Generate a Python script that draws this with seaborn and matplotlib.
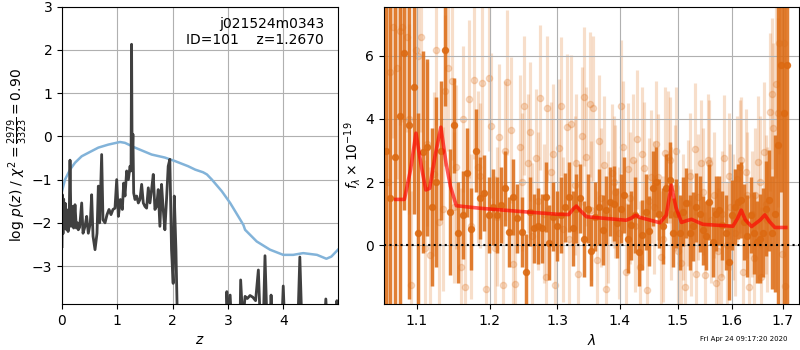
import numpy as np
import pandas as pd
import matplotlib
matplotlib.use("Agg")
import matplotlib.pyplot as plt
import seaborn as sns
from matplotlib.ticker import NullLocator, FixedLocator, FixedFormatter

# ---------------- redshift probability panel ----------------
z_grid = [0.000, 0.006, 0.018, 0.030, 0.045, 0.060, 0.075, 0.090, 0.110, 0.130,
          0.145, 0.163, 0.187, 0.211, 0.235, 0.259, 0.280, 0.295, 0.319, 0.356,
          0.380, 0.416, 0.446, 0.476, 0.512, 0.536, 0.561, 0.597, 0.633, 0.657,
          0.681, 0.717, 0.741, 0.778, 0.814, 0.850, 0.886, 0.922, 0.958, 0.989,
          1.019, 1.055, 1.091, 1.115, 1.139, 1.169, 1.200, 1.230, 1.248, 1.258,
          1.268, 1.282, 1.296, 1.320, 1.350, 1.380, 1.410, 1.440, 1.470, 1.500,
          1.530, 1.560, 1.590, 1.620, 1.650, 1.680, 1.710, 1.740, 1.770, 1.800,
          1.830, 1.860, 1.890, 1.920, 1.950, 1.980, 2.010, 2.030, 2.060, 2.090,
          2.200, 2.950, 2.980, 3.010, 3.040, 3.070, 3.200, 3.230, 3.270, 3.310,
          3.350, 3.400, 3.450, 3.500, 3.550, 3.590, 3.640, 3.670, 3.710, 3.760,
          3.780, 3.810, 3.970, 4.000, 4.030, 4.260, 4.300, 4.340, 4.740, 4.770,
          4.800, 4.950, 4.970, 5.000]
log_pz = [-2.55, -1.35, -2.25, -1.45, -2.10, -1.55, -2.15, -1.70, -2.20, -1.90,
          -0.55, -2.08, -1.62, -2.12, -1.58, -2.12, -2.00, -2.16, -2.10, -1.54,
          -2.24, -2.08, -1.85, -2.24, -2.00, -1.35, -2.31, -2.62, -2.24, -1.15,
          -2.00, -0.42, -1.93, -2.00, -1.81, -1.69, -1.81, -1.69, -1.66, -1.00,
          -1.85, -1.46, -1.69, -1.08, -1.38, -0.80, -1.00, -0.69, -0.80, 2.13,
          -0.60, 0.05, -1.31, -1.46, -1.38, -1.54, -1.46, -1.11, -1.54, -1.62,
          -1.66, -1.19, -1.54, -1.23, -0.88, -1.69, -1.62, -1.23, -2.08, -1.11,
          -1.69, -2.16, -1.46, -0.69, -0.53, -2.62, -3.40, -1.38, -2.62, -4.50,
          -6.00, -6.00, -3.59, -4.50, -3.67, -4.50, -6.00, -3.32, -4.30, -3.70,
          -3.75, -3.68, -3.72, -3.80, -3.09, -4.50, -4.30, -2.76, -4.50, -4.30,
          -3.67, -4.50, -4.50, -3.46, -4.50, -4.50, -2.79, -4.50, -4.50, -3.76,
          -4.50, -4.50, -3.80, -4.50]

z_chi = [0.000, 0.054, 0.145, 0.235, 0.356, 0.476, 0.657, 0.838, 1.049, 1.139,
         1.320, 1.620, 1.860, 2.040, 2.280, 2.410, 2.550, 2.620, 2.710, 2.890,
         3.040, 3.220, 3.280, 3.310, 3.520, 3.760, 4.000, 4.180, 4.360, 4.610,
         4.780, 4.870, 4.990]
chi_curve = [-1.27, -1.00, -0.77, -0.61, -0.46, -0.38, -0.26, -0.19, -0.13, -0.15,
             -0.26, -0.42, -0.49, -0.57, -0.69, -0.77, -0.83, -0.88, -1.00, -1.27,
             -1.54, -1.92, -2.05, -2.16, -2.43, -2.62, -2.74, -2.74, -2.70, -2.74,
             -2.83, -2.78, -2.62]

# ---------------- spectrum panel ----------------
# combined (binned) spectrum
dark_wave = [1.060, 1.066, 1.072, 1.078, 1.084, 1.090, 1.096, 1.102, 1.108, 1.114,
             1.120, 1.126, 1.132, 1.138, 1.144, 1.150, 1.156, 1.162, 1.168, 1.174,
             1.180, 1.186, 1.192, 1.198, 1.204, 1.210, 1.216, 1.222, 1.228, 1.234,
             1.240, 1.246, 1.252, 1.258, 1.264, 1.270, 1.276, 1.282, 1.288, 1.294,
             1.300, 1.306, 1.312, 1.318, 1.324, 1.330, 1.336, 1.342, 1.348, 1.354,
             1.360, 1.366, 1.372, 1.378, 1.384, 1.390, 1.396, 1.402, 1.408, 1.414,
             1.420, 1.426, 1.432, 1.438, 1.444, 1.450, 1.456, 1.462, 1.468, 1.474,
             1.480, 1.486, 1.492, 1.498, 1.504, 1.510, 1.516, 1.522, 1.528, 1.534,
             1.540, 1.546, 1.552, 1.558, 1.564, 1.570, 1.576, 1.582, 1.588, 1.594,
             1.600, 1.606, 1.612, 1.618, 1.624, 1.630, 1.636, 1.642, 1.648, 1.654,
             1.660, 1.666, 1.672, 1.678, 1.684, 1.690, 1.696, 1.702, 1.708]
dark_flux = [3.00, 1.50, 2.80, 4.10, 6.10, 3.80, 5.00, 0.40, 2.95, 3.10,
             1.20, 2.00, 3.00, 6.20, 1.05, 3.80, 0.40, 0.95, 2.30, 0.50,
             3.00, 1.50, 1.66, 0.95, 1.20, 0.95, 1.27, 1.80, 0.42, 1.53,
             0.85, 0.42, -0.85, 1.06, 0.53, 0.60, 0.53, 1.53, 0.08, 0.90,
             0.61, 0.95, 1.20, 1.53, 0.53, 1.16, 1.48, 0.20, 1.16, -0.20,
             0.90, 1.20, 0.48, 1.10, 1.38, 1.32, 0.70, 1.16, 1.59, 0.21,
             0.63, 0.95, -0.21, 0.32, 1.06, 0.45, 1.80, 2.00, 1.00, 0.60,
             1.80, 2.06, 0.40, 1.00, 0.40, 1.06, 1.33, 0.40, 0.60, 1.20,
             0.98, 0.47, 0.30, 1.37, 0.10, 1.00, 1.10, 0.63, 0.40, -0.53,
             0.95, 1.20, 1.38, 1.43, 0.74, 0.30, 0.95, 0.40, 0.10, 0.21,
             0.40, 1.16, 1.43, 0.40, 1.00, 3.17, 5.70, 4.18, 5.70]
dark_err = [8.0, 7.0, 6.0, 6.0, 5.0, 5.5, 4.0, 3.8, 3.2, 2.8,
            2.5, 2.7, 2.2, 1.8, 2.0, 1.5, 1.6, 1.4, 1.4, 1.3,
            1.3, 1.3, 1.2, 1.2, 1.2, 1.2, 1.2, 1.2, 1.1, 1.2,
            1.1, 1.1, 1.2, 1.1, 1.1, 1.2, 1.1, 1.1, 1.2, 1.1,
            1.1, 1.2, 1.1, 1.1, 1.2, 1.1, 1.1, 1.2, 1.1, 1.1,
            1.1, 1.2, 1.1, 1.1, 1.1, 1.2, 1.1, 1.1, 1.2, 1.1,
            1.1, 1.2, 1.1, 1.1, 1.2, 1.1, 1.2, 1.1, 1.1, 1.2,
            1.1, 1.2, 1.1, 1.1, 1.2, 1.1, 1.1, 1.2, 1.1, 1.1,
            1.2, 1.1, 1.1, 1.2, 1.1, 1.2, 1.1, 1.1, 1.2, 1.2,
            1.1, 1.2, 1.2, 1.2, 1.2, 1.3, 1.2, 1.3, 1.3, 1.4,
            1.4, 1.5, 1.6, 1.8, 2.5, 6.0, 4.0, 7.0, 8.0]

# first exposure set (faint)
pa1_wave = [1.063, 1.069, 1.075, 1.081, 1.087, 1.093, 1.099, 1.105, 1.111, 1.117,
            1.123, 1.129, 1.135, 1.141, 1.147, 1.153, 1.159, 1.165, 1.171, 1.177,
            1.183, 1.189, 1.195, 1.201, 1.207, 1.213, 1.219, 1.225, 1.231, 1.237,
            1.243, 1.249, 1.255, 1.261, 1.267, 1.273, 1.279, 1.285, 1.291, 1.297,
            1.303, 1.309, 1.315, 1.321, 1.327, 1.333, 1.339, 1.345, 1.351, 1.357,
            1.363, 1.369, 1.375, 1.381, 1.387, 1.393, 1.399, 1.405, 1.411, 1.417,
            1.423, 1.429, 1.435, 1.441, 1.447, 1.453, 1.459, 1.465, 1.471, 1.477,
            1.483, 1.489, 1.495, 1.501, 1.507, 1.513, 1.519, 1.525, 1.531, 1.537,
            1.543, 1.549, 1.555, 1.561, 1.567, 1.573, 1.579, 1.585, 1.591, 1.597,
            1.603, 1.609, 1.615, 1.621, 1.627, 1.633, 1.639, 1.645, 1.651, 1.657,
            1.663, 1.669, 1.675, 1.681, 1.687, 1.693, 1.699, 1.705]
pa1_flux = [2.00, 6.90, 5.60, 6.90, 6.60, -1.27, 6.20, 6.60, -0.10, -0.31,
            2.27, 0.74, 1.16, 5.60, 5.20, 2.48, -0.69, -1.33, 4.64, 5.24,
            2.48, 5.14, -1.38, 3.78, -0.10, 3.43, -1.27, 5.16, 3.65, -1.22,
            3.10, 4.42, 2.59, 0.30, 2.75, 4.68, 1.00, 4.34, 2.33, -1.27,
            3.07, 0.50, 3.76, 3.84, 1.90, -0.90, 3.46, 2.80, 4.46, 4.34,
            -0.48, 1.50, 2.54, 0.90, 2.28, 1.70, 0.38, 3.10, -0.85, 1.50,
            2.70, 3.35, -0.69, 2.43, -1.43, 2.17, 1.20, 2.17, -0.37, 2.91,
            2.80, 1.00, 1.80, -0.20, -0.58, -1.33, 1.33, 0.40, 3.04, 1.53,
            2.60, -0.96, 2.70, 0.80, 1.60, -0.20, -1.00, 2.75, 0.00, 1.20,
            0.90, 2.10, 2.49, -0.85, 2.33, -1.33, 1.00, 1.60, 2.62, -1.00,
            2.96, 0.80, 4.23, 3.70, 5.12, 6.40, -0.27, -1.30]
pa1_err = [6.0, 3.5, 3.5, 3.0, 3.0, 3.0, 3.0, 3.0, 2.8, 2.8,
           2.6, 2.8, 2.6, 2.6, 2.5, 2.6, 2.5, 2.4, 2.5, 2.5,
           2.4, 2.4, 2.4, 2.3, 2.3, 2.3, 2.4, 2.3, 2.3, 2.3,
           2.3, 2.2, 2.2, 2.3, 2.2, 2.3, 2.2, 2.3, 2.2, 2.3,
           2.2, 2.3, 2.3, 2.2, 2.2, 2.3, 2.2, 2.2, 2.3, 2.3,
           2.2, 2.2, 2.2, 2.1, 2.2, 2.1, 2.1, 2.1, 2.2, 2.1,
           2.1, 2.2, 2.1, 2.1, 2.2, 2.1, 2.1, 2.0, 2.1, 2.1,
           2.1, 2.1, 2.0, 2.1, 2.1, 2.1, 2.0, 2.0, 2.1, 2.0,
           2.0, 2.0, 2.1, 2.0, 2.0, 2.0, 2.1, 2.0, 2.0, 2.0,
           2.0, 2.0, 2.1, 2.0, 2.0, 2.1, 2.0, 2.1, 2.1, 2.2,
           2.2, 2.3, 2.5, 2.7, 3.0, 3.5, 4.5, 5.5]

# second exposure set (faint)
pa2_wave = [1.066, 1.078, 1.090, 1.102, 1.114, 1.126, 1.138, 1.150, 1.162, 1.174,
            1.186, 1.198, 1.210, 1.222, 1.234, 1.246, 1.258, 1.270, 1.282, 1.294,
            1.306, 1.318, 1.330, 1.342, 1.354, 1.366, 1.378, 1.390, 1.402, 1.414,
            1.426, 1.438, 1.450, 1.462, 1.474, 1.486, 1.498, 1.510, 1.522, 1.534,
            1.546, 1.558, 1.570, 1.582, 1.594, 1.606, 1.618, 1.630, 1.642, 1.654,
            1.666, 1.678, 1.690, 1.702]
pa2_flux = [5.5, 6.8, 4.0, 6.0, 3.2, 6.2, 4.9, 1.2, 4.0, 0.6,
            2.2, 5.3, 0.9, 3.0, -0.6, 2.0, 3.6, 1.4, -1.0, 2.9,
            4.4, 0.2, 2.6, 4.7, 1.1, 3.3, -1.4, 2.0, 4.4, 2.4,
            0.6, 2.9, 1.4, 3.2, 0.2, 2.7, 3.0, 0.9, 2.2, -0.9,
            1.7, 2.6, -1.2, 1.0, 2.2, 0.4, 2.7, 1.6, -0.4, 2.0,
            1.3, 4.8, 4.2, 6.4]
pa2_err = [5.0, 3.0, 3.0, 2.8, 2.6, 2.4, 2.4, 2.4, 2.3, 2.3,
           2.3, 2.3, 2.2, 2.2, 2.2, 2.2, 2.2, 2.2, 2.2, 2.2,
           2.2, 2.2, 2.2, 2.2, 2.2, 2.1, 2.1, 2.1, 2.1, 2.1,
           2.1, 2.1, 2.0, 2.0, 2.0, 2.0, 2.0, 2.0, 2.0, 2.0,
           2.0, 2.0, 2.0, 2.0, 2.0, 2.0, 2.0, 2.0, 2.0, 2.1,
           2.2, 2.4, 3.0, 4.0]

model_wave = [1.073, 1.084, 1.092, 1.099, 1.106, 1.112, 1.117, 1.124, 1.132, 1.139,
              1.145, 1.153, 1.186, 1.243, 1.300, 1.318, 1.325, 1.330, 1.336, 1.346,
              1.411, 1.420, 1.427, 1.434, 1.469, 1.480, 1.489, 1.497, 1.507, 1.517,
              1.525, 1.534, 1.546, 1.602, 1.611, 1.618, 1.626, 1.638, 1.655, 1.664,
              1.673, 1.684, 1.706]
model_flux = [1.45, 1.45, 2.40, 3.55, 2.50, 1.75, 1.80, 2.80, 3.74, 2.60,
              1.86, 1.25, 1.17, 1.07, 0.98, 0.97, 1.15, 1.24, 1.10, 0.90,
              0.79, 0.86, 0.95, 0.88, 0.71, 0.95, 1.90, 1.20, 0.72, 0.78,
              0.82, 0.75, 0.66, 0.60, 0.85, 1.11, 0.80, 0.59, 0.80, 0.96,
              0.75, 0.56, 0.56]

wave_ticks = [1.1, 1.2, 1.3, 1.4, 1.5, 1.6, 1.7]
wave_tick_labels = ["1.1", "1.2", "1.3", "1.4", "1.5", "1.6", "1.7"]

plt.rcParams["font.family"] = ["DejaVu Sans"]
plt.rcParams["font.size"] = 10

fig = plt.figure(figsize=(8, 3.5), dpi=100)
ax_pz = fig.add_axes([0.0775, 0.131, 0.345, 0.85])
ax_sp = fig.add_axes([0.48, 0.131, 0.51875, 0.85])

grid_kw = dict(color="#b0b0b0", lw=0.8)

# p(z) panel
pz_df = pd.DataFrame({"z": z_grid, "lnp": log_pz})
chi_df = pd.DataFrame({"z": z_chi, "chi": chi_curve})
sns.lineplot(data=chi_df, x="z", y="chi", ax=ax_pz, color="#82b3d9", lw=1.8,
             estimator=None, sort=False)
sns.lineplot(data=pz_df, x="z", y="lnp", ax=ax_pz, color="#404040", lw=2.0,
             estimator=None, sort=False)
ax_pz.set_xlim(0, 4.99)
ax_pz.set_ylim(-3.88, 3)
ax_pz.set_xticks([0, 1, 2, 3, 4])
ax_pz.set_yticks([-3, -2, -1, 0, 1, 2, 3])
ax_pz.grid(True, **grid_kw)
ax_pz.set_xlabel("$z$")
ax_pz.set_ylabel(r"log $p(z)$ / $\chi^2=\frac{2979}{3323}=0.90$", labelpad=1.5)
ax_pz.text(0.95, 0.965, "j021524m0343\nID=101    z=1.2670", transform=ax_pz.transAxes,
           ha="right", va="top", fontsize=10)

# spectrum panel
orange = "#dc6a12"
for w, f, e in ((pa1_wave, pa1_flux, pa1_err), (pa2_wave, pa2_flux, pa2_err)):
    ax_sp.errorbar(w, f, yerr=e, fmt="o", color=orange, alpha=0.22, ms=4.5,
                   elinewidth=2.3, capsize=0, zorder=1)
ax_sp.errorbar(dark_wave, dark_flux, yerr=dark_err, fmt="o", color=orange,
               alpha=0.85, ms=4.3, elinewidth=2.5, capsize=0, zorder=2)
model_df = pd.DataFrame({"wave": model_wave, "flux": model_flux})
sns.lineplot(data=model_df, x="wave", y="flux", ax=ax_sp, color="red", alpha=0.65,
             lw=2.6, estimator=None, sort=False, zorder=3)
ax_sp.axhline(0, color="k", ls=":", lw=1.5, zorder=4)

ax_sp.set_xscale("log")
ax_sp.set_xlim(1.058, 1.733)
ax_sp.set_ylim(-1.87, 7.56)
ax_sp.xaxis.set_major_locator(FixedLocator(wave_ticks))
ax_sp.xaxis.set_major_formatter(FixedFormatter(wave_tick_labels))
ax_sp.xaxis.set_minor_locator(NullLocator())
ax_sp.set_yticks([0, 2, 4, 6])
ax_sp.grid(True, **grid_kw)
ax_sp.set_xlabel(r"$\lambda$")
ax_sp.set_ylabel(r"$f_\lambda\times10^{-19}$", labelpad=2)

fig.text(0.985, 0.03, "Fri Apr 24 09:17:20 2020", ha="right", va="center", fontsize=5)

fig.savefig("out.png", dpi=100)
